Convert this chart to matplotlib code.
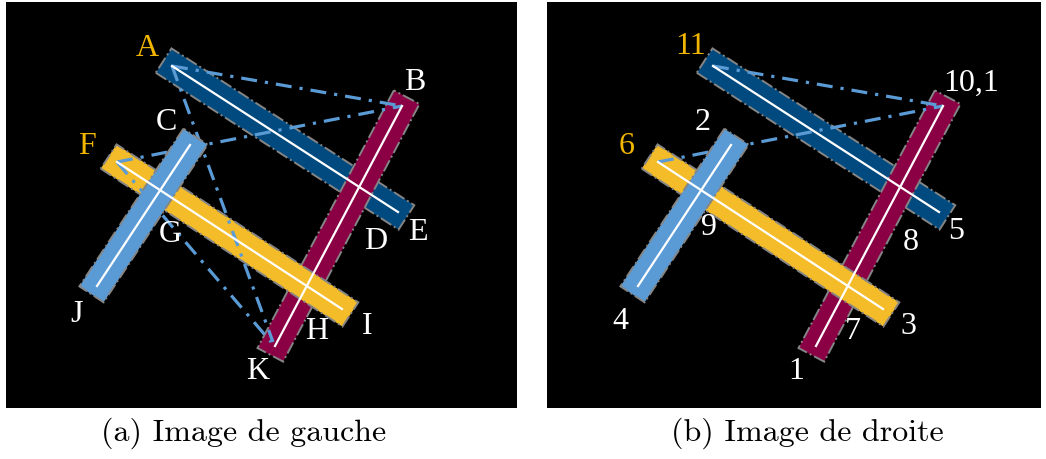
import numpy as np
import matplotlib
matplotlib.use("Agg")
import matplotlib.pyplot as plt
from matplotlib.patches import Polygon

# bar endpoints in panel pixel coords (same scene in both images)
bar_names = ["darkblue", "crimson", "yellow", "lightblue"]
bar_start = [(166, 64), (396, 104), (111, 160), (184, 143)]
bar_end = [(392, 210), (269, 344), (336, 307), (91, 284)]
bar_colors = ["#014A7F", "#8B0045", "#F3BC28", "#5B9BD5"]

# left image labels
left_labels = ["A", "B", "C", "F", "E", "D", "G", "J", "H", "I", "K"]
left_lx = [141, 409, 160, 81, 412, 370, 164, 71, 311, 361, 252]
left_ly = [45, 79, 119, 144, 230, 239, 232, 312, 329, 324, 369]
left_gold = ["A", "F"]
left_links = [((166, 64), (396, 104)), ((111, 160), (396, 104)),
              ((166, 64), (267, 340)), ((111, 160), (265, 340))]

# right image labels
right_labels = ["11", "10,1", "2", "6", "5", "8", "9", "4", "3", "7", "1"]
right_lx = [144, 424, 156, 80, 409, 364, 162, 73, 361, 306, 249]
right_ly = [44, 80, 120, 144, 229, 240, 225, 319, 324, 329, 369]
right_gold = ["11", "6"]
right_links = [((166, 64), (396, 104)), ((111, 160), (396, 104))]

captions = ["(a) Image de gauche", "(b) Image de droite"]


def bar_poly(p0, p1, half_w=14.5, ext=10):
    p0 = np.array(p0, float)
    p1 = np.array(p1, float)
    d = (p1 - p0) / np.linalg.norm(p1 - p0)
    n = np.array([-d[1], d[0]])
    a = p0 - ext * d
    b = p1 + ext * d
    return [a + half_w * n, b + half_w * n, b - half_w * n, a - half_w * n]


def draw_panel(ax, width, labels, lx, ly, gold, links):
    ax.set_facecolor("black")
    ax.set_xlim(0, width)
    ax.set_ylim(406, 0)
    ax.set_xticks([])
    ax.set_yticks([])
    for s in ax.spines.values():
        s.set_visible(False)

    zs = {"darkblue": 1, "crimson": 2, "yellow": 3, "lightblue": 5}
    for name, p0, p1, c in zip(bar_names, bar_start, bar_end, bar_colors):
        ax.add_patch(Polygon(bar_poly(p0, p1), closed=True, facecolor=c,
                             edgecolor="#858585", lw=1.4, linestyle="-.",
                             zorder=zs[name]))
        ax.plot([p0[0], p1[0]], [p0[1], p1[1]], color="white", lw=1.6,
                zorder=6)

    for (x0, y0), (x1, y1) in links:
        ax.plot([x0, x1], [y0, y1], color="#5B9BD5", lw=2.3,
                dashes=(5, 2.5, 1, 2.5), zorder=4)

    for t, x, y in zip(labels, lx, ly):
        ax.text(x, y, t, color="#F2B500" if t in gold else "white",
                fontsize=23, family="Liberation Serif", ha="center",
                va="center", zorder=7)


fig = plt.figure(figsize=(10.46, 4.6), dpi=100)
ax1 = fig.add_axes([6 / 1046, 51 / 460, 511 / 1046, 406 / 460])
ax2 = fig.add_axes([547 / 1046, 51 / 460, 494 / 1046, 406 / 460])

draw_panel(ax1, 511, left_labels, left_lx, left_ly, left_gold, left_links)
draw_panel(ax2, 494, right_labels, right_lx, right_ly, right_gold, right_links)

fig.text(244 / 1046, 1 - 433 / 460, captions[0], family="cmr10",
         fontsize=23, ha="center", va="center")
fig.text(807 / 1046, 1 - 433 / 460, captions[1], family="cmr10",
         fontsize=23, ha="center", va="center")

fig.savefig("out.png", dpi=100, facecolor="white")
